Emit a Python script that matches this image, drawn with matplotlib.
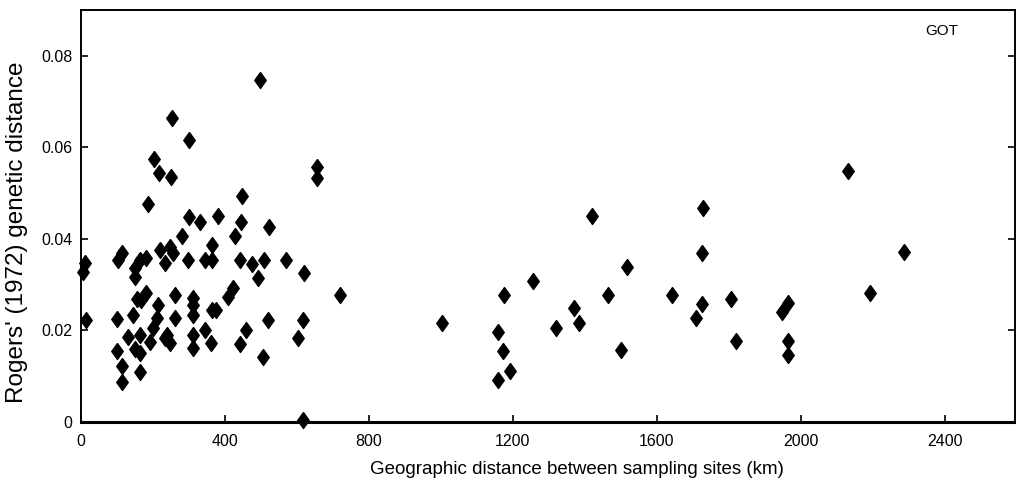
import matplotlib
matplotlib.use("Agg")
import matplotlib.pyplot as plt

# geographic distance (km) and Rogers' genetic distance
dist_km = [12, 5, 15,
           185, 299, 332, 282, 113, 104, 219, 247, 256, 298, 344, 233, 182, 164,
           150, 150, 155, 182, 168, 145, 99, 215, 210, 201, 131, 164, 150, 164,
           192, 238, 247, 99, 113, 113, 164, 261, 261, 312, 312, 312, 312, 312,
           344, 363, 376, 360, 233,
           497, 252, 301, 202, 218, 250, 446, 380, 445, 523, 428, 363,
           363, 442, 474, 508, 571, 655, 655, 619, 493, 423, 409,
           719, 520, 618, 458, 442, 602, 506, 616,
           1003, 1159, 1175, 1173, 1193, 1159, 1255, 1319, 1369, 1384, 1419,
           1465, 1500, 1517, 1643, 1727, 1726, 1725, 1708, 1805, 1819,
           2130, 2287, 2192, 1965, 1948, 1965, 1965]
rogers = [0.0348, 0.0328, 0.0223,
          0.0476, 0.0447, 0.0436, 0.0407, 0.0369, 0.0354, 0.0376, 0.0383, 0.0369, 0.0354, 0.0354, 0.0347, 0.0358, 0.0354,
          0.0336, 0.0316, 0.0268, 0.0281, 0.0267, 0.0234, 0.0225, 0.0256, 0.0227, 0.0205, 0.0186, 0.0190, 0.0160, 0.0150,
          0.0174, 0.0190, 0.0172, 0.0154, 0.0123, 0.0088, 0.0110, 0.0278, 0.0227, 0.0271, 0.0256, 0.0234, 0.0190, 0.0161,
          0.0201, 0.0245, 0.0245, 0.0172, 0.0183,
          0.0748, 0.0665, 0.0615, 0.0575, 0.0543, 0.0536, 0.0494, 0.0449, 0.0436, 0.0427, 0.0407, 0.0387,
          0.0354, 0.0354, 0.0345, 0.0354, 0.0354, 0.0558, 0.0533, 0.0325, 0.0314, 0.0292, 0.0274,
          0.0277, 0.0223, 0.0223, 0.0201, 0.0170, 0.0183, 0.0141, 0.0004,
          0.0216, 0.0196, 0.0278, 0.0156, 0.0112, 0.0092, 0.0308, 0.0206, 0.0250, 0.0217, 0.0450,
          0.0278, 0.0157, 0.0338, 0.0278, 0.0468, 0.0369, 0.0258, 0.0228, 0.0269, 0.0178,
          0.0549, 0.0371, 0.0281, 0.0259, 0.0241, 0.0178, 0.0146]

x_ticks = [0, 400, 800, 1200, 1600, 2000, 2400]
y_ticks = [0, 0.02, 0.04, 0.06, 0.08]
y_tick_labels = ["0", "0.02", "0.04", "0.06", "0.08"]

fam = ["Liberation Sans", "DejaVu Sans"]

fig = plt.figure(figsize=(10.16, 4.95), dpi=100)
ax = fig.add_axes([0.0797, 0.1475, 0.9193, 0.8323])

diamond = [(0, 1), (0.72, 0), (0, -1), (-0.72, 0), (0, 1)]
ax.plot(dist_km, rogers, linestyle="none", marker=diamond, markersize=11.5,
        color="black", clip_on=False)

ax.set_xlim(0, 2595)
ax.set_ylim(0, 0.09)
ax.set_xticks(x_ticks)
ax.set_yticks(y_ticks)
ax.set_yticklabels(y_tick_labels)
ax.tick_params(direction="in", length=5, width=1.2, labelsize=11.5)
ax.tick_params(axis="x", pad=9)
ax.tick_params(axis="y", right=True, pad=6)
for lab in ax.get_xticklabels() + ax.get_yticklabels():
    lab.set_family(fam)
for side in ["left", "bottom", "right", "top"]:
    ax.spines[side].set_linewidth(1.4)
ax.spines["bottom"].set_linewidth(2.2)

ax.set_xlabel("Geographic distance between sampling sites (km)", family=fam,
              fontsize=13.5)
ax.set_ylabel("Rogers' (1972) genetic distance", family=fam, fontsize=17.5)
ax.xaxis.set_label_coords(0.531, -0.095)
ax.yaxis.set_label_coords(-0.057, 0.46)
ax.text(0.922, 0.95, "GOT", transform=ax.transAxes, family=fam, fontsize=11,
        ha="center", va="center")

fig.savefig("out.png", dpi=100)
